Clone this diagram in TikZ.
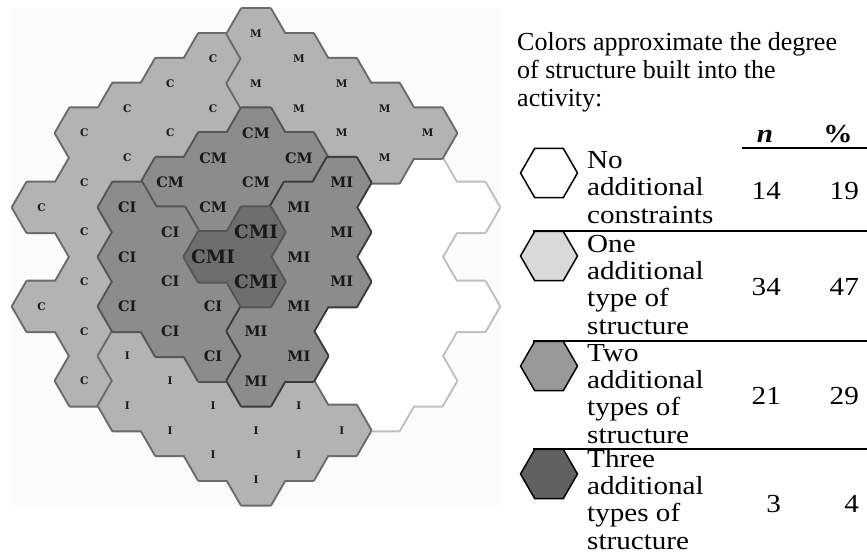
\documentclass[tikz,border=0pt]{standalone}
\usepackage{fontspec}
\setmainfont{Liberation Serif}
\newfontfamily\hexfont{DejaVu Serif}
\newfontfamily\keyfont{Liberation Serif}[FakeStretch=1.12]
\usetikzlibrary{shapes.geometric}
\definecolor{OneFill}{HTML}{B3B3B3}
\definecolor{TwoFill}{HTML}{8C8C8C}
\definecolor{ThreeFill}{HTML}{6E6E6E}
\definecolor{OneEdge}{HTML}{6A6A6A}
\definecolor{TwoEdge}{HTML}{555555}
\definecolor{DarkEdge}{HTML}{3A3A3A}
\definecolor{OpenEdge}{HTML}{BEBEBE}
\definecolor{KeyOne}{HTML}{D9D9D9}
\definecolor{KeyTwo}{HTML}{999999}
\definecolor{KeyThree}{HTML}{616161}
\newcommand\hx[2]{({41.5+42.9*#1+28.6},{34+24.77*#2}) -- ++(-14.3,24.77) -- ++(-28.6,0)
  -- ++(-14.3,-24.77) -- ++(14.3,-24.77) -- ++(28.6,0) -- cycle}

\begin{document}
\begin{tikzpicture}[x=1pt, y=-1pt,
    one/.style={font=\hexfont\bfseries\fontsize{10.5}{10}\selectfont, text=black!90},
    two/.style={font=\hexfont\bfseries\fontsize{14.5}{15}\selectfont, text=black!90},
    three/.style={font=\hexfont\bfseries\fontsize{18.5}{19}\selectfont, text=black!90},
    keyhex/.style={regular polygon, regular polygon sides=6, minimum size=57pt,
      inner sep=0pt, draw=black, line width=1.5pt},
    keytext/.style={anchor=base west, align=left, inner sep=0pt,
      font=\keyfont\fontsize{26}{27.2}\selectfont},
    keynum/.style={anchor=base east, inner sep=0pt, font=\keyfont\fontsize{26}{26}\selectfont}]
  \useasboundingbox (0,0) rectangle (867,555);
  \fill[black!1.5] (11,8) rectangle (500,505);
  % open cells
  \draw[OpenEdge, line width=4pt, line join=round]
    \foreach \c/\k in {9/6,8/7,10/7,9/8,8/9,9/10,8/11,10/11,9/12,7/12,8/13,9/14,7/14,8/15} {\hx{\c}{\k}};
  \fill[white]
    \foreach \c/\k in {9/6,8/7,10/7,9/8,8/9,9/10,8/11,10/11,9/12,7/12,8/13,9/14,7/14,8/15} {\hx{\c}{\k}};
  % labelled regions
  \foreach \rg/\fc/\ec/\lst/\cells in {
      C/OneFill/OneEdge/one/{4/1,3/2,2/3,4/3,1/4,3/4,2/5,1/6,0/7,1/8,1/10,0/11,1/12,1/14},
      M/OneFill/OneEdge/one/{5/0,6/1,5/2,7/2,6/3,8/3,7/4,9/4,8/5},
      I/OneFill/OneEdge/one/{2/13,3/14,2/15,4/15,6/15,3/16,5/16,7/16,4/17,6/17,5/18},
      CM/TwoFill/TwoEdge/two/{5/4,4/5,6/5,3/6,5/6,4/7},
      CI/TwoFill/TwoEdge/two/{2/7,3/8,2/9,3/10,2/11,4/11,3/12,4/13},
      MI/TwoFill/DarkEdge/two/{7/6,6/7,7/8,6/9,7/10,6/11,5/12,6/13,5/14},
      CMI/ThreeFill/TwoEdge/three/{5/8,4/9,5/10}} {
    \draw[\ec, line width=4pt, line join=round] \foreach \c/\k in \cells {\hx{\c}{\k}};
    \fill[\fc] \foreach \c/\k in \cells {\hx{\c}{\k}};
    \foreach \c/\k in \cells
      \node[\lst] (\rg-\c-\k) at ({41.5+42.9*\c},{34+24.77*\k}) {\rg};
  }
  % key
  \node[keytext, font=\fontsize{26}{28}\selectfont] (title) at (517,106)
    {Colors approximate the degree\\of structure built into the\\activity:};
  \node[anchor=base, font=\keyfont\fontsize{26}{26}\selectfont\bfseries\itshape] (nhead) at (765,142) {n};
  \node[anchor=base, font=\keyfont\fontsize{26}{26}\selectfont\bfseries] (phead) at (838,142) {\%};
  \draw[line width=2pt] (742,148) -- (867,148);
  \foreach \y in {231,341,449}
    \draw[line width=2pt] (533,\y) -- (867,\y);
  \foreach \i/\yc/\fc/\txt/\n/\p/\yn/\yt in {
      1/173/white/{No\\additional\\constraints}/14/19/199/223,
      2/256/KeyOne/{One\\additional\\type of\\structure}/34/47/295/334,
      3/366/KeyTwo/{Two\\additional\\types of\\structure}/21/29/404/443,
      4/474/KeyThree/{Three\\additional\\types of\\structure}/3/4/512/549} {
    \node[keyhex, fill=\fc] (icon\i) at (549,\yc) {};
    \node[keytext] (label\i) at (587,\yt) {\txt};
    \node[keynum] (n\i) at (781,\yn) {\n};
    \node[keynum] (pc\i) at (859,\yn) {\p};
  }
\end{tikzpicture}
\end{document}
